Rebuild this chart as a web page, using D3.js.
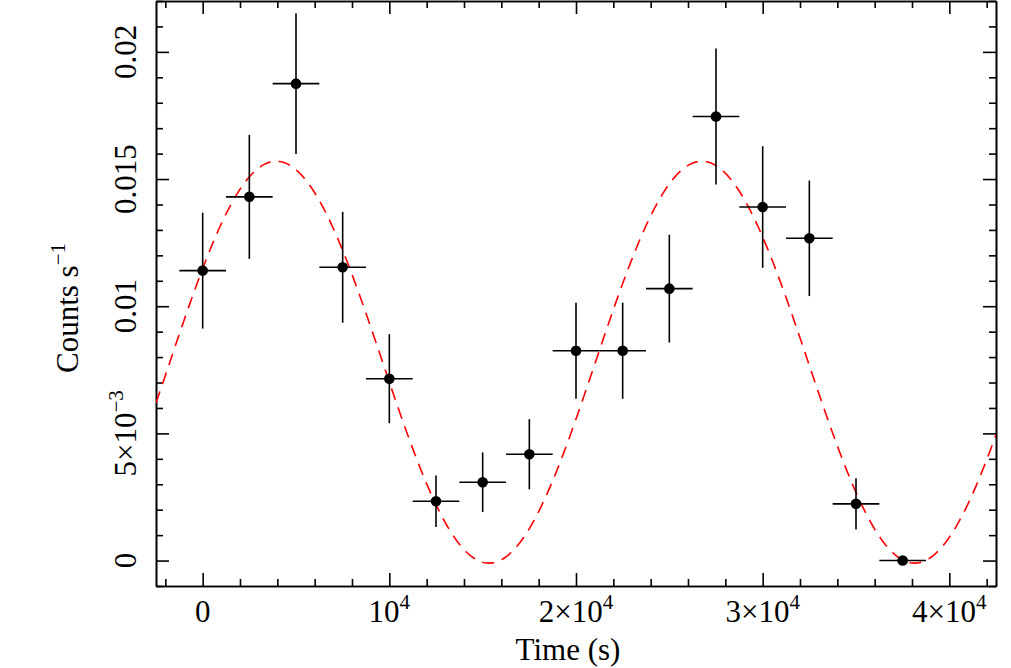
<!DOCTYPE html>
<html>
<head>
<meta charset="utf-8">
<script src="https://cdn.jsdelivr.net/npm/d3@7"></script>
<style>
  body { margin: 0; background: #fff; }
</style>
</head>
<body>
<script>
const width = 1011;
const height = 668;
const fontFamily = "Liberation Serif";

// light curve bins (s) and count rates (counts/s)
const times = [0, 2500, 5000, 7500, 10000, 12500, 15000, 17500, 20000, 22500, 25000, 27500, 30000, 32500, 35000, 37500];
const timeErrs = [1250, 1250, 1250, 1250, 1250, 1250, 1250, 1250, 1250, 1250, 1250, 1250, 1250, 1250, 1250, 1250];
const rates = [0.0114, 0.0143, 0.01875, 0.01153, 0.00715, 0.00233, 0.00308, 0.00418, 0.00825, 0.00825, 0.01069, 0.01746, 0.0139, 0.01267, 0.00223, 0.0];
const rateErrs = [0.00228, 0.00244, 0.00277, 0.00218, 0.00175, 0.00101, 0.00117, 0.00138, 0.00189, 0.00189, 0.00212, 0.00267, 0.00239, 0.00227, 0.00101, 0.0];

// sinusoid model
const modelMean = 0.0078;
const modelAmp = 0.0079;
const modelPeriod = 22800;
const modelPeak = 3941;

// tick values and labels
const xMajor = [0, 10000, 20000, 30000, 40000];
const xLabels = [["0", ""], ["10", "4"], ["2×10", "4"], ["3×10", "4"], ["4×10", "4"]];
const yMajor = [0, 0.005, 0.01, 0.015, 0.02];
const yLabels = [["0", ""], ["5×10", "−3"], ["0.01", ""], ["0.015", ""], ["0.02", ""]];

const plotLeft = 156, plotRight = 996, plotTop = 1, plotBottom = 586;

const x = d3.scaleLinear().domain([-2500, 42500]).range([plotLeft, plotRight]);
const y = d3.scaleLinear().domain([-0.001, 0.022]).range([plotBottom, plotTop]);

let svg = d3.select("body").append("svg")
    .attr("width", width)
    .attr("height", height);

const xMinor = d3.range(-2000, 42001, 2000).filter(v => v % 10000 !== 0);
const yMinor = d3.range(-1, 23).map(v => v / 1000).filter(v => Math.round(v * 1000) % 5 !== 0);

function drawAxis(axisFn, scale, values, size, transform) {
    svg.append("g")
        .attr("transform", transform)
        .call(axisFn(scale).tickValues(values).tickSize(-size).tickSizeOuter(0).tickFormat(""))
        .call(g => g.select(".domain").attr("stroke-width", 1.6))
        .call(g => g.selectAll(".tick line").attr("stroke-width", 1.6));
}

// ticks on all four sides, pointing inwards
drawAxis(d3.axisBottom, x, xMajor, 13, `translate(0,${plotBottom})`);
drawAxis(d3.axisBottom, x, xMinor, 7, `translate(0,${plotBottom})`);
drawAxis(d3.axisTop, x, xMajor, 13, `translate(0,${plotTop})`);
drawAxis(d3.axisTop, x, xMinor, 7, `translate(0,${plotTop})`);
drawAxis(d3.axisLeft, y, yMajor, 13, `translate(${plotLeft},0)`);
drawAxis(d3.axisLeft, y, yMinor, 7, `translate(${plotLeft},0)`);
drawAxis(d3.axisRight, y, yMajor, 13, `translate(${plotRight},0)`);
drawAxis(d3.axisRight, y, yMinor, 7, `translate(${plotRight},0)`);

// x tick labels
svg.append("g").selectAll("text")
    .data(xMajor)
    .join("text")
    .attr("x", d => x(d))
    .attr("y", 622)
    .attr("text-anchor", "middle")
    .attr("font-family", fontFamily)
    .attr("font-size", 31)
    .each(function(d, i) {
        const t = d3.select(this);
        t.append("tspan").text(xLabels[i][0]);
        if (xLabels[i][1]) t.append("tspan").attr("font-size", 21).attr("dy", -13).text(xLabels[i][1]);
    });

// y tick labels (rotated)
svg.append("g").selectAll("text")
    .data(yMajor)
    .join("text")
    .attr("transform", d => `translate(136,${y(d)}) rotate(-90)`)
    .attr("text-anchor", "middle")
    .attr("font-family", fontFamily)
    .attr("font-size", 31)
    .each(function(d, i) {
        const t = d3.select(this);
        t.append("tspan").text(yLabels[i][0]);
        if (yLabels[i][1]) t.append("tspan").attr("font-size", 21).attr("dy", -13).text(yLabels[i][1]);
    });

// axis titles
svg.append("text")
    .attr("x", 568)
    .attr("y", 660)
    .attr("text-anchor", "middle")
    .attr("font-family", fontFamily)
    .attr("font-size", 31)
    .text("Time (s)");

const yTitle = svg.append("text")
    .attr("transform", "translate(78,308) rotate(-90)")
    .attr("text-anchor", "middle")
    .attr("font-family", fontFamily)
    .attr("font-size", 31);
yTitle.append("tspan").text("Counts s");
yTitle.append("tspan").attr("font-size", 21).attr("dy", -13).text("−1");

// model curve
svg.append("clipPath").attr("id", "plot-clip")
    .append("rect")
    .attr("x", plotLeft).attr("y", plotTop)
    .attr("width", plotRight - plotLeft).attr("height", plotBottom - plotTop);

const model = d3.range(-2500, 42501, 100).map(t => [t, modelMean + modelAmp * Math.cos(2 * Math.PI * (t - modelPeak) / modelPeriod)]);

svg.append("path")
    .datum(model)
    .attr("clip-path", "url(#plot-clip)")
    .attr("fill", "none")
    .attr("stroke", "#ff0000")
    .attr("stroke-width", 1.6)
    .attr("stroke-dasharray", "12,8")
    .attr("d", d3.line().x(d => x(d[0])).y(d => y(d[1])));

// data points with error bars
const points = times.map((t, i) => ({ t: t, dt: timeErrs[i], r: rates[i], dr: rateErrs[i] }));

const g = svg.append("g");
g.selectAll(".xerr")
    .data(points)
    .join("line")
    .attr("x1", d => x(d.t - d.dt))
    .attr("x2", d => x(d.t + d.dt))
    .attr("y1", d => y(d.r))
    .attr("y2", d => y(d.r))
    .attr("stroke", "#000")
    .attr("stroke-width", 1.6);

g.selectAll(".yerr")
    .data(points.filter(d => d.dr > 0))
    .join("line")
    .attr("x1", d => x(d.t))
    .attr("x2", d => x(d.t))
    .attr("y1", d => y(d.r - d.dr))
    .attr("y2", d => y(d.r + d.dr))
    .attr("stroke", "#000")
    .attr("stroke-width", 1.6);

g.selectAll("circle")
    .data(points)
    .join("circle")
    .attr("cx", d => x(d.t))
    .attr("cy", d => y(d.r))
    .attr("r", 5.3)
    .attr("fill", "#000");
</script>
</body>
</html>
